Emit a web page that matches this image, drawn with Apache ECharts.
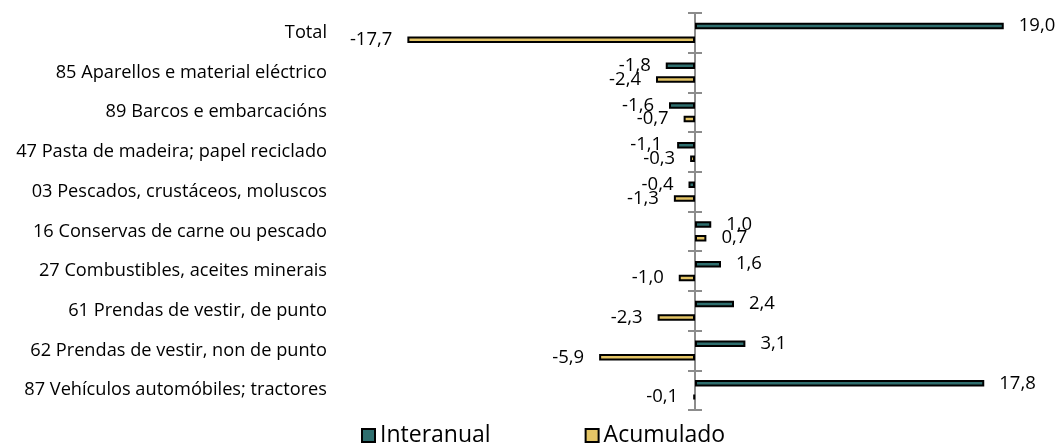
<!DOCTYPE html>
<html>
<head>
<meta charset="utf-8">
<script src="https://cdn.jsdelivr.net/npm/echarts@6/dist/echarts.min.js"></script>
<style>html,body{margin:0;padding:0;background:#fff}#c{width:1058px;height:446px}</style>
</head>
<body>
<div id="c"></div>
<script>
const categories = [
  "Total",
  "85 Aparellos e material eléctrico",
  "89 Barcos e embarcacións",
  "47 Pasta de madeira; papel reciclado",
  "03 Pescados, crustáceos, moluscos",
  "16 Conservas de carne ou pescado",
  "27 Combustibles, aceites minerais",
  "61 Prendas de vestir, de punto",
  "62 Prendas de vestir, non de punto",
  "87 Vehículos automóbiles; tractores"
];
const interanual = [19.0, -1.8, -1.6, -1.1, -0.4, 1.0, 1.6, 2.4, 3.1, 17.8];
const acumulado = [-17.7, -2.4, -0.7, -0.3, -1.3, 0.7, -1.0, -2.3, -5.9, -0.1];
const seriesNames = ["Interanual", "Acumulado"];

const FONT = "Open Sans";
const fmt = v => v.toFixed(1).replace('.', ',');
const toData = arr => arr.map(v => ({value: v, label: {position: v >= 0 ? 'right' : 'left'}}));

const chart = echarts.init(document.getElementById('c'));
const zeroAxis = (pos) => ({
  type: 'category', data: categories, inverse: true, position: pos,
  axisLine: {show: true, onZero: true, onZeroAxisIndex: 0, lineStyle: {color: '#8c8c8c', width: 2}},
  axisTick: {show: true, length: 7, lineStyle: {color: '#8c8c8c', width: 2}},
  axisLabel: {show: false}, splitLine: {show: false}
});
chart.setOption({
  animation: false,
  textStyle: {fontFamily: FONT},
  grid: {left: 370, right: 38, top: 13, bottom: 36, containLabel: false},
  xAxis: {type: 'value', min: -20, max: 20, show: false},
  yAxis: [
    {
      type: 'category', data: categories, inverse: true, position: 'left',
      axisLine: {show: false, onZero: false}, axisTick: {show: false},
      axisLabel: {margin: 43, fontSize: 18.2, color: '#000', fontFamily: FONT}
    },
    zeroAxis('left'),
    zeroAxis('right')
  ],
  legend: {
    left: 361, top: 424, padding: 0, itemGap: 94, itemWidth: 13, itemHeight: 13, icon: 'rect',
    textStyle: {fontSize: 23, color: '#000', fontFamily: FONT},
    data: seriesNames
  },
  series: [
    {
      name: seriesNames[0], type: 'bar', yAxisIndex: 0, barWidth: 6.5, barGap: '110%',
      data: toData(interanual),
      itemStyle: {color: '#2E6E6E', borderColor: '#000', borderWidth: 2},
      label: {show: true, distance: 15, fontSize: 18.5, color: '#000', fontFamily: FONT,
        formatter: p => fmt(p.value)}
    },
    {
      name: seriesNames[1], type: 'bar', yAxisIndex: 0, barWidth: 6.5,
      data: toData(acumulado),
      itemStyle: {color: '#E4C566', borderColor: '#000', borderWidth: 2},
      label: {show: true, distance: 15, fontSize: 18.5, color: '#000', fontFamily: FONT,
        formatter: p => fmt(p.value)}
    }
  ]
});
</script>
</body>
</html>
